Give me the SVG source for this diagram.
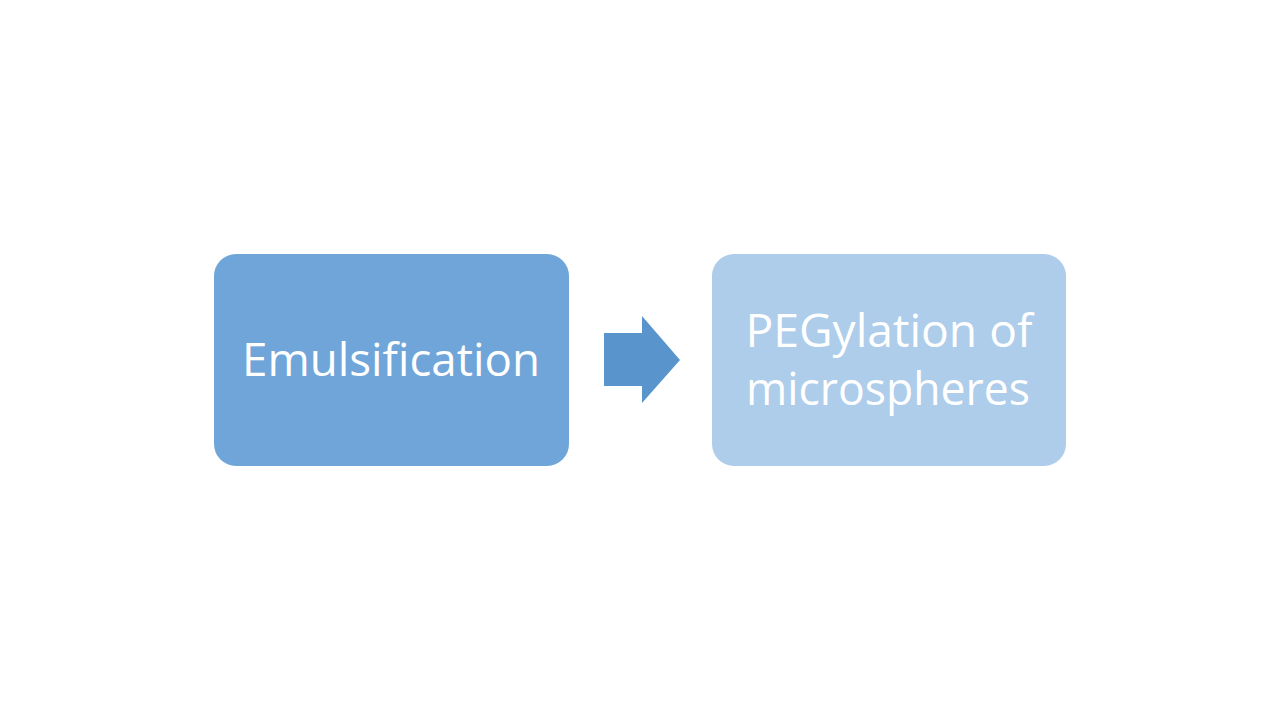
<svg xmlns="http://www.w3.org/2000/svg" width="1280" height="720" viewBox="0 0 1280 720">
<style>
.lbl{font-family:"Open Sans","Liberation Sans",sans-serif;font-size:46px;fill:#ffffff;text-anchor:middle}
</style>
<rect width="1280" height="720" fill="#ffffff"/>
<g id="node-emulsification">
<rect x="214" y="254" width="355" height="212" rx="22" fill="#6FA5D9"/>
<text class="lbl" x="391" y="376" textLength="298" lengthAdjust="spacingAndGlyphs">Emulsification</text>
</g>
<g id="connectors">
<polygon points="604,333 642,333 642,316 680,360 642,403 642,386 604,386" fill="#5994CC"/>
</g>
<g id="node-pegylation">
<rect x="712" y="254" width="354" height="212" rx="22" fill="#ADCDEB"/>
<text class="lbl" x="889" y="347" textLength="287" lengthAdjust="spacingAndGlyphs">PEGylation of</text>
<text class="lbl" x="888" y="405" textLength="284" lengthAdjust="spacingAndGlyphs">microspheres</text>
</g>
</svg>
